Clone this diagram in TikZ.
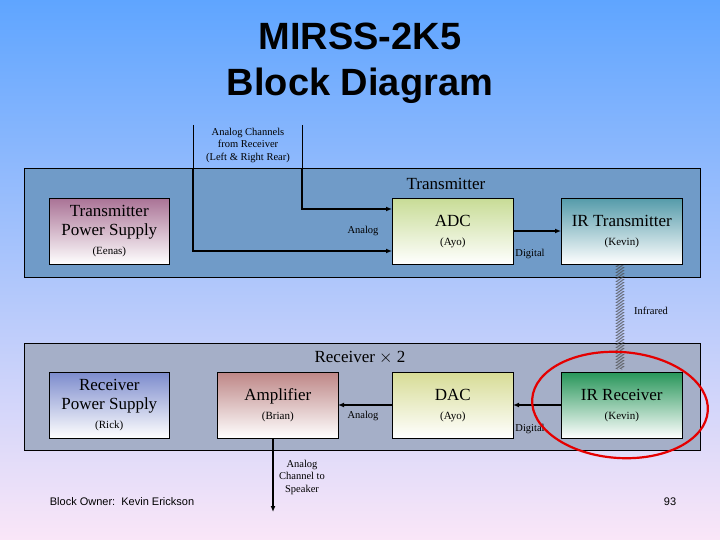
\documentclass[tikz,border=0pt]{standalone}
\usepackage{fontspec}
\setmainfont{Liberation Serif}
\newfontfamily\sansf{Liberation Sans}
\usetikzlibrary{arrows.meta,decorations.pathmorphing}
\definecolor{bgtop}{RGB}{95,165,255}
\definecolor{bgbot}{RGB}{250,230,248}
\definecolor{txarea}{RGB}{112,155,200}
\definecolor{rxarea}{RGB}{165,175,200}
\definecolor{ctps}{RGB}{170,115,150}
\definecolor{cadc}{RGB}{200,220,150}
\definecolor{cirt}{RGB}{85,155,170}
\definecolor{crps}{RGB}{125,140,205}
\definecolor{camp}{RGB}{190,135,135}
\definecolor{cdac}{RGB}{215,220,150}
\definecolor{cirr}{RGB}{40,150,90}
\tikzset{
  blk/.style={draw=black, line width=0.6pt, minimum width=121pt, minimum height=66pt,
    anchor=north west, top color=#1, bottom color=white, inner sep=0pt},
  area/.style={draw=black, line width=0.8pt, fill=#1, anchor=north west, inner sep=0pt},
  conn/.style={line width=1.6pt, -{Latex[length=6pt,width=5pt]}},
  btxt/.style={align=center, font=\fontsize{17}{19}\selectfont},
  small/.style={font=\fontsize{10.5}{12.5}\selectfont},
  wave/.style={line width=0.4pt, black!70, decorate, decoration={zigzag, segment length=3pt, amplitude=2pt}},
}
\newcommand{\subt}[1]{{\fontsize{11}{13}\selectfont #1}}
\begin{document}
\begin{tikzpicture}[x=1pt,y=-1pt]
\useasboundingbox (0,0) rectangle (720,540);
\shade[top color=bgtop, bottom color=bgbot] (0,0) rectangle (720,540);
% title
\node[font=\sansf\bfseries\fontsize{38}{46}\selectfont, align=center] (title) at (360,63) {MIRSS-2K5\\Block Diagram};
% areas
\node[area=txarea, minimum width=676pt, minimum height=109pt] (tx) at (24,168) {};
\node[area=rxarea, minimum width=676pt, minimum height=107pt] (rx) at (24,343) {};
% infrared
\coordinate (ir1a) at (618,264);
\coordinate (ir1b) at (618,370);
\coordinate (ir2a) at (622,264);
\coordinate (ir2b) at (622,370);
\draw[wave] (ir1a) -- (ir1b);
\draw[wave] (ir2a) -- (ir2b);
\node[small] (lir) at (651,311) {Infrared};
\node[font=\fontsize{17}{18}\selectfont] (txt) at (446,184) {Transmitter};
\node[font=\fontsize{17}{18}\selectfont] (rxt) at (360,358) {Receiver $\times$ 2};
% transmitter blocks
\node[blk=ctps, minimum width=120pt] (tps) at (49,198) {};
\node[btxt] (tpsl) at (tps.center) {Transmitter\\Power Supply\\\subt{(Eenas)}};
\node[blk=cadc] (adc) at (392,198) {};
\node[btxt] (adcl) at (adc.center) {ADC\\\subt{(Ayo)}};
\node[blk=cirt] (irt) at (561,198) {};
\node[btxt] (irtl) at (irt.center) {IR Transmitter\\\subt{(Kevin)}};
% receiver blocks
\node[blk=crps, minimum width=120pt] (rps) at (49,372) {};
\node[btxt] (rpsl) at (rps.center) {Receiver\\Power Supply\\\subt{(Rick)}};
\node[blk=camp] (amp) at (217,372) {};
\node[btxt] (ampl) at (amp.center) {Amplifier\\\subt{(Brian)}};
\node[blk=cdac] (dac) at (392,372) {};
\node[btxt] (dacl) at (dac.center) {DAC\\\subt{(Ayo)}};
\node[blk=cirr] (irr) at (561,372) {};
\node[btxt] (irrl) at (irr.center) {IR Receiver\\\subt{(Kevin)}};
% input channels
\node[small, align=center] (inl) at (248,145) {Analog Channels\\from Receiver\\(Left \& Right Rear)};
\coordinate (inA) at (193,125);
\coordinate (inB) at (302,125);
\coordinate (inA2) at (193,168);
\coordinate (inB2) at (302,168);
\coordinate (adcA) at (392,251);
\coordinate (adcB) at (392,209);
\draw[line width=0.6pt] (inA) -- (inA2);
\draw[line width=0.6pt] (inB) -- (inB2);
\draw[conn] (inA2) |- (adcA);
\draw[conn] (inB2) |- (adcB);
\node[small] (lan1) at (363,231) {Analog};
\coordinate (adcE) at (513,231);
\coordinate (irtW) at (561,231);
\draw[conn] (adcE) -- (irtW);
\node[small] (ldg1) at (530,254) {Digital};
% receiver chain
\coordinate (irrW) at (561,405);
\coordinate (dacE) at (513,405);
\coordinate (dacW) at (392,405);
\coordinate (ampE) at (338,405);
\draw[conn] (irrW) -- (dacE);
\draw[conn] (dacW) -- (ampE);
\node[small] (lan2) at (363,416) {Analog};
\node[small] (ldg2) at (530,429) {Digital};
\coordinate (ampS) at (273,438);
\coordinate (spk) at (273,512);
\draw[conn] (ampS) -- (spk);
\node[small, align=center] (lsp) at (302,477) {Analog\\Channel to\\Speaker};
% footer
\node[font=\sansf\fontsize{11}{12}\selectfont] (own) at (122,502) {Block Owner:\ \ Kevin Erickson};
\node[font=\sansf\fontsize{11}{12}\selectfont] (pg) at (670,502) {93};
% highlight
\draw[red!90!black, line width=2.2pt, rotate around={-4:(620,405)}] (620,405) ellipse (88pt and 53pt);
\end{tikzpicture}
\end{document}
